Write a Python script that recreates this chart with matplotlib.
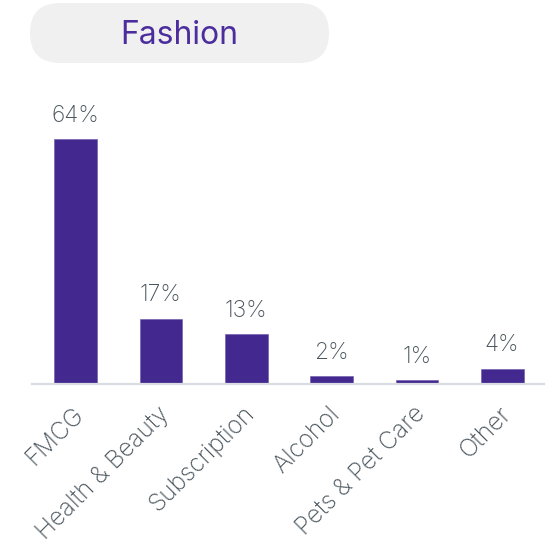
import matplotlib
matplotlib.use("Agg")
import matplotlib.pyplot as plt
import matplotlib.transforms as mtransforms
from matplotlib.patches import FancyBboxPatch

categories = ["FMCG", "Health & Beauty", "Subscription", "Alcohol", "Pets & Pet Care", "Other"]
shares = [64, 17, 13, 2, 1, 4]
value_labels = ["64%", "17%", "13%", "2%", "1%", "4%"]
title_text = "Fashion"

bar_color = "#43298f"
text_gray = "#47535b"
title_color = "#4b2d9e"

plt.rcParams["font.family"] = ["Inter", "DejaVu Sans"]

W, H = 552, 547
fig = plt.figure(figsize=(W / 100, H / 100), dpi=100)

# Plot area in pixel coordinates
ax_left, ax_right = 32, 544
ax_top, ax_bottom = 100, 384
ax = fig.add_axes([ax_left / W, 1 - ax_bottom / H, (ax_right - ax_left) / W, (ax_bottom - ax_top) / H])

x = list(range(len(categories)))
ax.bar(x, shares, width=0.5, color=bar_color, edgecolor="#6a55a8", linewidth=0.4)
ax.set_xlim(-0.51, 5.49)
ax.set_ylim(0, 74.2)

for xi, v, lab in zip(x, shares, value_labels):
    ax.annotate(lab, (xi, v), xytext=(0, 9), textcoords="offset points",
                ha="center", va="bottom", fontsize=16.5, color=text_gray,
                fontweight="light")

for side in ["top", "right", "left"]:
    ax.spines[side].set_visible(False)
ax.spines["bottom"].set_color("#d9dce0")
ax.spines["bottom"].set_linewidth(1.6)
ax.set_yticks([])
ax.set_xticks(x)
ax.set_xticklabels(categories, rotation=45, ha="right", va="center",
                   rotation_mode="anchor", fontsize=17.5, color=text_gray,
                   fontweight="light")
ax.tick_params(axis="x", length=0, pad=19)
shift = mtransforms.ScaledTranslation(5 / 100, 0, fig.dpi_scale_trans)
for lbl in ax.get_xticklabels():
    lbl.set_transform(lbl.get_transform() + shift)

# Title pill
pill = FancyBboxPatch((30 / W, 1 - 63 / H), (329 - 30) / W, (63 - 3) / H,
                      boxstyle="round,pad=0,rounding_size=0.055",
                      transform=fig.transFigure, facecolor="#f0f0f0",
                      edgecolor="none", mutation_aspect=H / W)
fig.patches.append(pill)
fig.text(179 / W, 1 - 36 / H, title_text, ha="center", va="center",
         fontsize=23, color=title_color)

fig.savefig("out.png", dpi=100, facecolor="white")
